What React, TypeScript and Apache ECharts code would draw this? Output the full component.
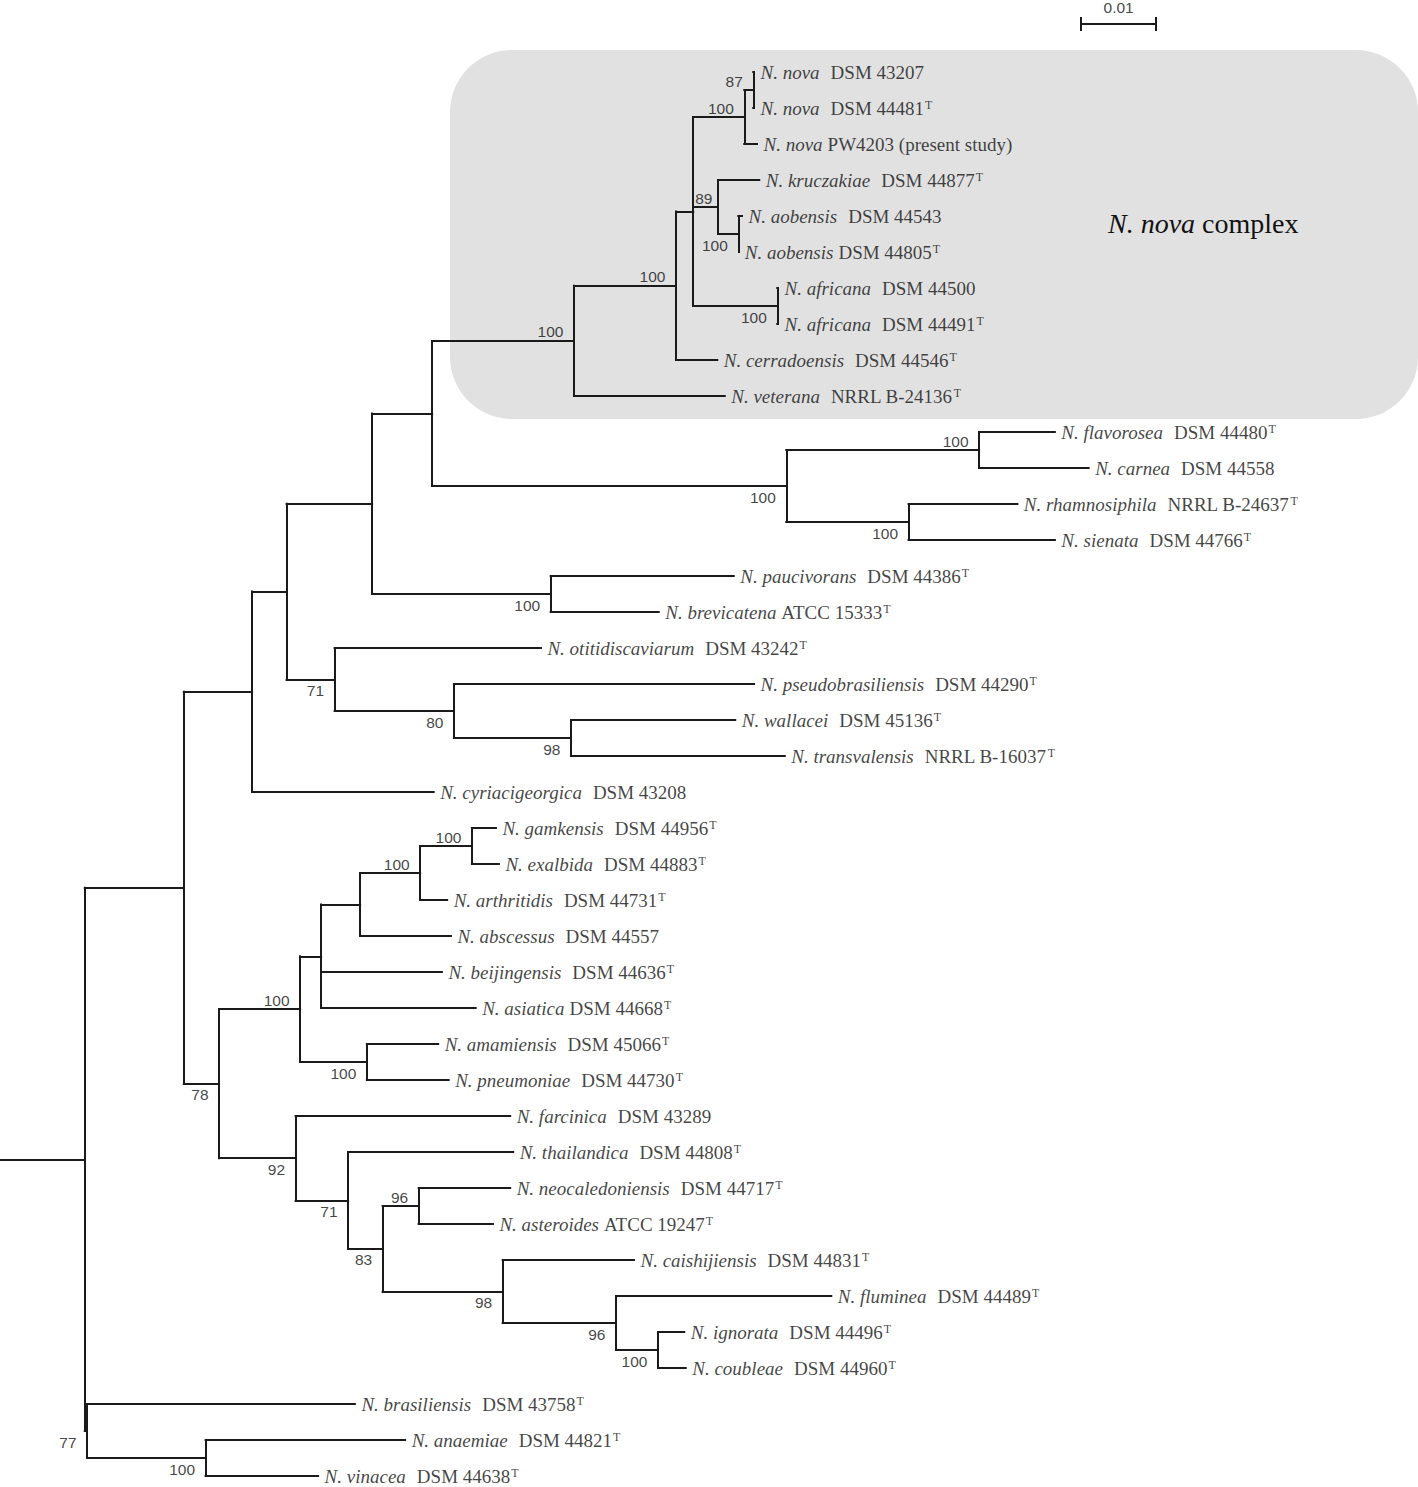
import React, { useEffect, useRef } from "react";
import * as echarts from "echarts";

// ---- Tips (top to bottom) ----
const tipName = [
  "N. nova", "N. nova", "N. nova", "N. kruczakiae", "N. aobensis", "N. aobensis",
  "N. africana", "N. africana", "N. cerradoensis", "N. veterana", "N. flavorosea",
  "N. carnea", "N. rhamnosiphila", "N. sienata", "N. paucivorans", "N. brevicatena",
  "N. otitidiscaviarum", "N. pseudobrasiliensis", "N. wallacei", "N. transvalensis",
  "N. cyriacigeorgica", "N. gamkensis", "N. exalbida", "N. arthritidis", "N. abscessus",
  "N. beijingensis", "N. asiatica", "N. amamiensis", "N. pneumoniae", "N. farcinica",
  "N. thailandica", "N. neocaledoniensis", "N. asteroides", "N. caishijiensis",
  "N. fluminea", "N. ignorata", "N. coubleae", "N. brasiliensis", "N. anaemiae", "N. vinacea",
];
const tipStrain = [
  "DSM 43207", "DSM 44481", "PW4203 (present study)", "DSM 44877", "DSM 44543", "DSM 44805",
  "DSM 44500", "DSM 44491", "DSM 44546", "NRRL B-24136", "DSM 44480",
  "DSM 44558", "NRRL B-24637", "DSM 44766", "DSM 44386", "ATCC 15333",
  "DSM 43242", "DSM 44290", "DSM 45136", "NRRL B-16037",
  "DSM 43208", "DSM 44956", "DSM 44883", "DSM 44731", "DSM 44557",
  "DSM 44636", "DSM 44668", "DSM 45066", "DSM 44730", "DSM 43289",
  "DSM 44808", "DSM 44717", "ATCC 19247", "DSM 44831",
  "DSM 44489", "DSM 44496", "DSM 44960", "DSM 43758", "DSM 44821", "DSM 44638",
];
const tipTypeStrain = [
  0, 1, 0, 1, 0, 1, 0, 1, 1, 1, 1, 0, 1, 1, 1, 1, 1, 1, 1, 1,
  0, 1, 1, 1, 0, 1, 1, 1, 1, 0, 1, 1, 1, 1, 1, 1, 1, 1, 1, 1,
];
const tipWideGap = [
  1, 1, 0, 1, 1, 0, 1, 1, 1, 1, 1, 1, 1, 1, 1, 0, 1, 1, 1, 1,
  1, 1, 1, 1, 1, 1, 0, 1, 1, 1, 1, 1, 0, 1, 1, 1, 1, 1, 1, 1,
];
// distance from root (substitutions per site)
const tipDepth = [
  0.0892, 0.0892, 0.0896, 0.0899, 0.0876, 0.0871, 0.0924, 0.0924, 0.0843, 0.0853,
  0.1293, 0.1338, 0.1243, 0.1293, 0.0865, 0.0765, 0.0608, 0.0892, 0.0867, 0.0933,
  0.0465, 0.0548, 0.0552, 0.0483, 0.0488, 0.0476, 0.0521, 0.0471, 0.0485, 0.0567,
  0.0571, 0.0567, 0.0544, 0.0732, 0.0995, 0.0799, 0.0801, 0.036, 0.0427, 0.0311,
];

// ---- Internal nodes (children listed before parents) ----
const nodeId = [
  "nv87", "nv100", "aob", "kru", "afr", "n693", "n676", "cplx", "flc", "rhs", "flg", "A",
  "pau", "B", "n98a", "n80", "n71a", "C", "D", "gam", "n420", "n360", "n321", "ama", "n300",
  "n96a", "ign", "n96b", "n98b", "n83", "n71b", "n92", "n78", "E", "anv", "n77", "root",
];
const nodeKids: (number | string)[][] = [
  [0, 1], ["nv87", 2], [4, 5], [3, "aob"], [6, 7], ["nv100", "kru", "afr"], ["n693", 8],
  ["n676", 9], [10, 11], [12, 13], ["flc", "rhs"], ["cplx", "flg"],
  [14, 15], ["A", "pau"], [18, 19], [17, "n98a"], [16, "n80"], ["B", "n71a"], ["C", 20],
  [21, 22], ["gam", 23], ["n420", 24], ["n360", 25, 26], [27, 28], ["n321", "ama"],
  [31, 32], [35, 36], [34, "ign"], [33, "n96b"], ["n96a", "n98b"], [30, "n83"], [29, "n71b"],
  ["n300", "n92"], ["D", "n78"], [38, 39], [37, "anv"], ["E", "n77"],
];
const nodeDepth = [
  0.0891, 0.0879, 0.0871, 0.0844, 0.0923, 0.0811, 0.0788, 0.0652, 0.1192, 0.1098, 0.0935, 0.0463,
  0.0621, 0.0383, 0.0648, 0.0492, 0.0333, 0.0269, 0.0223, 0.0516, 0.0447, 0.0367, 0.0315,
  0.0376, 0.0287, 0.0445, 0.0764, 0.0708, 0.0557, 0.0397, 0.0351, 0.0281, 0.0179, 0.0132,
  0.0161, 0.0003, 0.0,
];
const nodeSupport = [
  87, 100, 100, 89, 100, null, 100, 100, 100, 100, 100, null,
  100, null, 98, 80, 71, null, null, 100, 100, null, null, 100, 100,
  96, 100, 96, 98, 83, 71, 92, 78, null, 100, 77, null,
];
// "a" = label above the incoming branch, "b" = below
const supportSide = [
  "a", "a", "b", "a", "b", "", "a", "a", "a", "b", "b", "",
  "b", "", "b", "b", "b", "", "", "a", "a", "", "", "b", "a",
  "a", "b", "b", "b", "b", "b", "b", "b", "", "b", "b", "",
];

const rootStemStart = -0.0113;
const scaleBarStart = 0.1328;
const scaleBarLength = 0.01;
const scaleBarLabel = "0.01";

const INK = "#1a1a1a";
const SERIF = "'Liberation Serif', 'Times New Roman', serif";
const SANS = "'Liberation Sans', Arial, Helvetica, sans-serif";

function buildOption() {
  const pos: Record<string, { x: number; y: number }> = {};
  tipDepth.forEach((d, i) => (pos["t" + i] = { x: d, y: i }));
  const key = (c: number | string) => (typeof c === "number" ? "t" + c : c);
  nodeId.forEach((id, k) => {
    const ys = nodeKids[k].map((c) => pos[key(c)].y);
    pos[id] = { x: nodeDepth[k], y: (ys[0] + ys[ys.length - 1]) / 2 };
  });

  const segs: any[] = [];
  nodeId.forEach((id, k) => {
    const p = pos[id];
    const kids = nodeKids[k].map((c) => pos[key(c)]);
    segs.push({ coords: [[p.x, kids[0].y], [p.x, kids[kids.length - 1].y]] });
    kids.forEach((c) => segs.push({ coords: [[p.x, c.y], [c.x, c.y]] }));
  });
  const root = pos["root"];
  segs.push({ coords: [[rootStemStart, root.y], [root.x, root.y]] });

  // scale bar (in data units)
  const sbY = -1.333;
  const sbT = 0.194;
  const sbEnd = scaleBarStart + scaleBarLength;
  const scaleSegs = [
    { coords: [[scaleBarStart, sbY], [sbEnd, sbY]] },
    { coords: [[scaleBarStart, sbY - sbT], [scaleBarStart, sbY + sbT]] },
    { coords: [[sbEnd, sbY - sbT], [sbEnd, sbY + sbT]] },
  ];

  const tipData = tipDepth.map((d, i) => ({
    value: [d, i],
    label: {
      formatter:
        "{it|" + tipName[i] + "}" +
        (tipWideGap[i] ? "{stw|" : "{st|") + tipStrain[i] + "}" +
        (tipTypeStrain[i] ? "{sup|T}" : ""),
    },
  }));

  const supData: any[] = [];
  nodeId.forEach((id, k) => {
    if (nodeSupport[k] == null) return;
    const p = pos[id];
    // the "89" label sits just right of its parent's vertical line
    const dx = id === "kru" ? 5 : 0;
    supData.push({
      value: [p.x, p.y],
      label: {
        formatter: String(nodeSupport[k]),
        offset: supportSide[k] === "a" ? [dx, -9] : [dx, 11],
      },
    });
  });

  return {
    animation: false,
    grid: { left: 0, right: 0, top: 0, bottom: 0 },
    xAxis: { type: "value", min: rootStemStart, max: 0.1777, show: false },
    yAxis: { type: "value", min: -2, max: 1487 / 36 - 2, inverse: true, show: false },
    graphic: [
      {
        type: "rect",
        z: -10,
        shape: { x: 450, y: 50, width: 968, height: 369, r: 62 },
        style: { fill: "#e1e1e1" },
      },
      {
        type: "text",
        z: -5,
        x: 1108,
        y: 223,
        style: {
          text: "{i|N. nova} complex",
          font: "28px " + SERIF,
          fill: "#111",
          verticalAlign: "middle",
          rich: { i: { fontStyle: "italic", fontSize: 28, fontFamily: SERIF } },
        },
      },
    ],
    series: [
      {
        type: "lines",
        coordinateSystem: "cartesian2d",
        data: segs,
        silent: true,
        lineStyle: { color: INK, width: 2, opacity: 1, cap: "square" },
        z: 3,
      },
      {
        type: "lines",
        coordinateSystem: "cartesian2d",
        data: scaleSegs,
        silent: true,
        lineStyle: { color: INK, width: 2, opacity: 1 },
        z: 3,
      },
      {
        type: "scatter",
        data: tipData,
        symbolSize: 1,
        itemStyle: { color: "rgba(0,0,0,0)" },
        silent: true,
        z: 4,
        label: {
          show: true,
          position: "right",
          distance: 6,
          color: "#111",
          rich: {
            it: { fontFamily: SERIF, fontStyle: "italic", fontSize: 19, color: "#111", lineHeight: 19 },
            st: { fontFamily: SERIF, fontSize: 19, color: "#111", padding: [0, 0, 0, 5], lineHeight: 19 },
            stw: { fontFamily: SERIF, fontSize: 19, color: "#111", padding: [0, 0, 0, 11], lineHeight: 19 },
            sup: { fontFamily: SERIF, fontSize: 12, color: "#111", verticalAlign: "top", lineHeight: 14, padding: [0, 0, 0, 1] },
          },
        },
      },
      {
        type: "scatter",
        data: supData,
        symbolSize: 1,
        itemStyle: { color: "rgba(0,0,0,0)" },
        silent: true,
        z: 4,
        label: {
          show: true,
          position: "left",
          distance: 10,
          fontFamily: SANS,
          fontSize: 15.5,
          color: "#111",
        },
      },
      {
        type: "scatter",
        data: [[scaleBarStart + scaleBarLength / 2, sbY]],
        symbolSize: 1,
        itemStyle: { color: "rgba(0,0,0,0)" },
        silent: true,
        z: 4,
        label: {
          show: true,
          position: "top",
          distance: 8,
          formatter: scaleBarLabel,
          fontFamily: SANS,
          fontSize: 15.5,
          color: "#111",
        },
      },
    ],
  };
}

export default function App() {
  const ref = useRef<HTMLDivElement>(null);
  useEffect(() => {
    if (!ref.current) return;
    const chart = echarts.init(ref.current, undefined, { renderer: "svg" });
    chart.setOption(buildOption() as any);
    return () => chart.dispose();
  }, []);
  return (
    <div
      ref={ref}
      style={{ position: "absolute", left: 0, top: 0, width: 1418, height: 1487, background: "#fff" }}
    />
  );
}
